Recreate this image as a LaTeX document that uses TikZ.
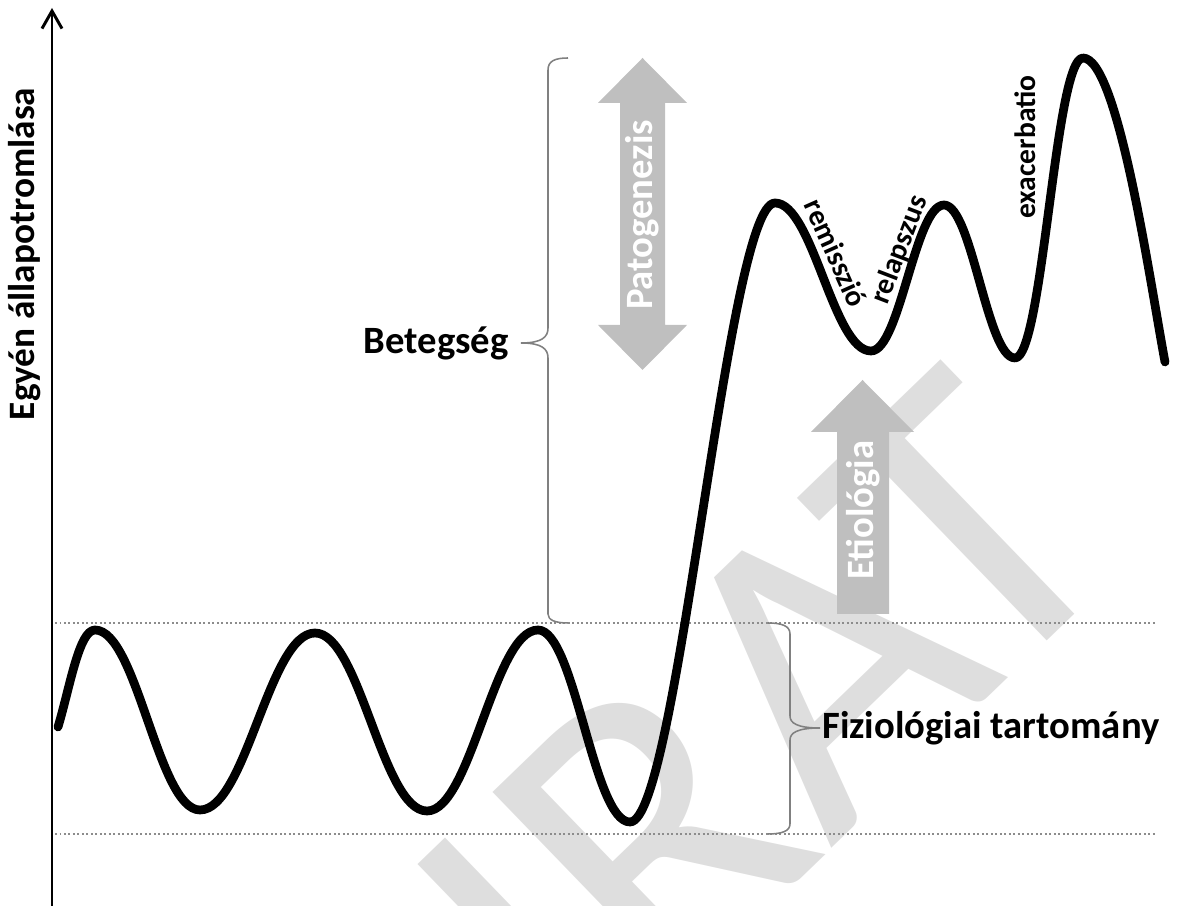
\documentclass[tikz,border=0pt]{standalone}
\usepackage{fontspec}
\setmainfont{Carlito}
\usetikzlibrary{positioning,arrows.meta}
\definecolor{arrgray}{RGB}{191,191,191}
\definecolor{wmgray}{RGB}{222,222,222}
\definecolor{brcgray}{RGB}{128,128,128}
\definecolor{dotgray}{RGB}{140,140,140}
\begin{document}
\begin{tikzpicture}[x=0.025cm, y=0.025cm, font=\fontsize{27.5}{30}\selectfont,
  wave/.style={line width=6.2pt, line cap=round, line join=round},
  lbl/.style={inner sep=0pt, font=\fontsize{27.5}{30}\selectfont\bfseries},
  small/.style={inner sep=0pt, font=\fontsize{21}{24}\selectfont\bfseries},
  inarr/.style={lbl, text=white},
  blk/.style={fill=arrgray, draw=none},
  brc/.style={draw=brcgray, line width=1.1pt},
  guide/.style={draw=dotgray, line width=1.2pt, dotted},
  wm/.style={text=wmgray, inner sep=0pt, font=\fontsize{306}{306}\selectfont}]
\useasboundingbox (0,0) rectangle (1180,906);
% watermark
\begin{scope}
\clip (0,0) rectangle (1180,906);
\node[wm, rotate=44, anchor=base] (mark) at (860,85) {IRAT};
\end{scope}
% range limits
\draw[guide] (55,283) -- (1155,283);
\draw[guide] (55,72) -- (1155,72);
% axis
\coordinate (o) at (52,0);
\coordinate (top) at (52,898);
\draw[line width=2.1pt, -{Straight Barb[length=0.44cm, width=0.5cm]}] (o) -- (top);
\node[lbl, rotate=90, font=\fontsize{26.5}{30}\selectfont\bfseries] (ylab) at (25,652) {Egyén állapotromlása};
% block arrows
\fill[blk] (642.5,848) -- (687,803) -- (665,803) -- (665,581) -- (687,581) -- (642.5,536)
  -- (598,581) -- (620,581) -- (620,803) -- (598,803) -- cycle;
\node[inarr, rotate=90] (pato) at (642.5,691) {Patogenezis};
\fill[blk] (862.5,526) -- (914,474) -- (889,474) -- (889,292) -- (837,292) -- (837,474) -- (811,474) -- cycle;
\node[inarr, rotate=90] (etio) at (863,396) {Etiológia};
% braces
\coordinate (bcusp) at (521,563);
\draw[brc] (568,848) .. controls (555,848) and (548,845) .. (548,836) -- (548,578)
  .. controls (548,569) and (542,563) .. (bcusp) .. controls (542,563) and (548,557) .. (548,548)
  -- (548,292) .. controls (548,286) and (555,283) .. (568,283);
\node[lbl, left=0.3cm of bcusp] (bet) {Betegség};
\coordinate (fcusp) at (820,178);
\draw[brc] (768,283) .. controls (782,283) and (790,280) .. (790,272) -- (790,190)
  .. controls (790,183) and (797,178) .. (fcusp) .. controls (797,178) and (790,173) .. (790,166)
  -- (790,82) .. controls (790,75) and (782,72) .. (768,72);
\node[lbl, right=0.05cm of fcusp] (fiz) {Fiziológiai tartomány};
% state curve
\draw[wave] (58,179) .. controls +(12,40) and +(-16,0) .. (95,276)
  .. controls +(42,0) and +(-42,0) .. (200,96)
  .. controls +(46,0) and +(-46,0) .. (315,273)
  .. controls +(45,0) and +(-45,0) .. (427,95)
  .. controls +(44,0) and +(-44,0) .. (538,276)
  .. controls +(37,0) and +(-37,0) .. (630,84)
  .. controls +(48,0) and +(-48,0) .. (775,703)
  .. controls +(38,0) and +(-38,0) .. (871,555)
  .. controls +(29,0) and +(-29,0) .. (944,701)
  .. controls +(28,0) and +(-28,0) .. (1015,548)
  .. controls +(28,0) and +(-28,0) .. (1083,848)
  .. controls +(35,0) and +(-15,80) .. (1165,544);
\node[small, rotate=-66] (remi) at (836,653) {remisszió};
\node[small, rotate=69] (rela) at (900,656) {relapszus};
\node[small, rotate=90] (exac) at (1025,759) {exacerbatio};
\end{tikzpicture}
\end{document}
